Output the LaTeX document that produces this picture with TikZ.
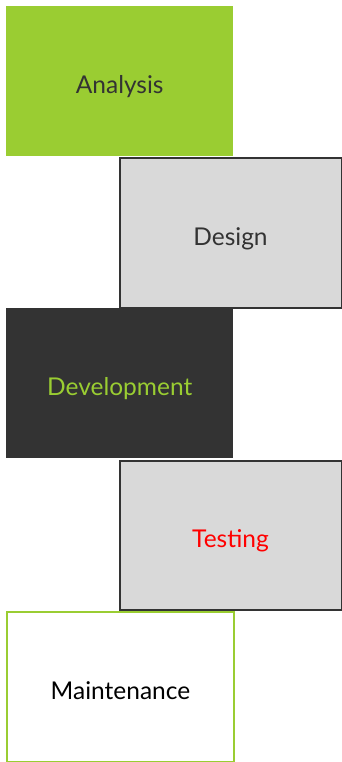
\documentclass[tikz,border=0pt]{standalone}
\usepackage{fontspec}
\setmainfont{Lato}
\definecolor{ygreen}{HTML}{9ACD32}
\definecolor{dgray}{HTML}{333333}
\definecolor{lgray}{HTML}{D9D9D9}
\begin{document}
\begin{tikzpicture}[x=1pt,y=-1pt,
  stage/.style={minimum width=227pt,minimum height=150pt,inner sep=0pt,text height=25.5pt,text depth=0pt,font=\fontsize{24.5}{28}\selectfont,anchor=north west},
  greenbox/.style={stage,fill=ygreen,text=dgray},
  graybox/.style={stage,fill=lgray,draw=dgray,line width=2pt,minimum width=222pt,minimum height=149pt},
  darkbox/.style={stage,fill=dgray,text=ygreen},
  whitebox/.style={stage,fill=white,draw=ygreen,line width=2pt,minimum width=227pt,minimum height=150pt}]
\useasboundingbox (0,0) rectangle (341,762);
\node[greenbox] (analysis) at (6,6) {Analysis};
\node[graybox,text=dgray] (design) at (118.5,157.5) {Design};
\node[darkbox] (development) at (6,308) {Development};
\node[graybox,text=red] (testing) at (118.5,459.5) {Testing};
\node[whitebox,text=black] (maintenance) at (6,611) {Maintenance};
\end{tikzpicture}
\end{document}
